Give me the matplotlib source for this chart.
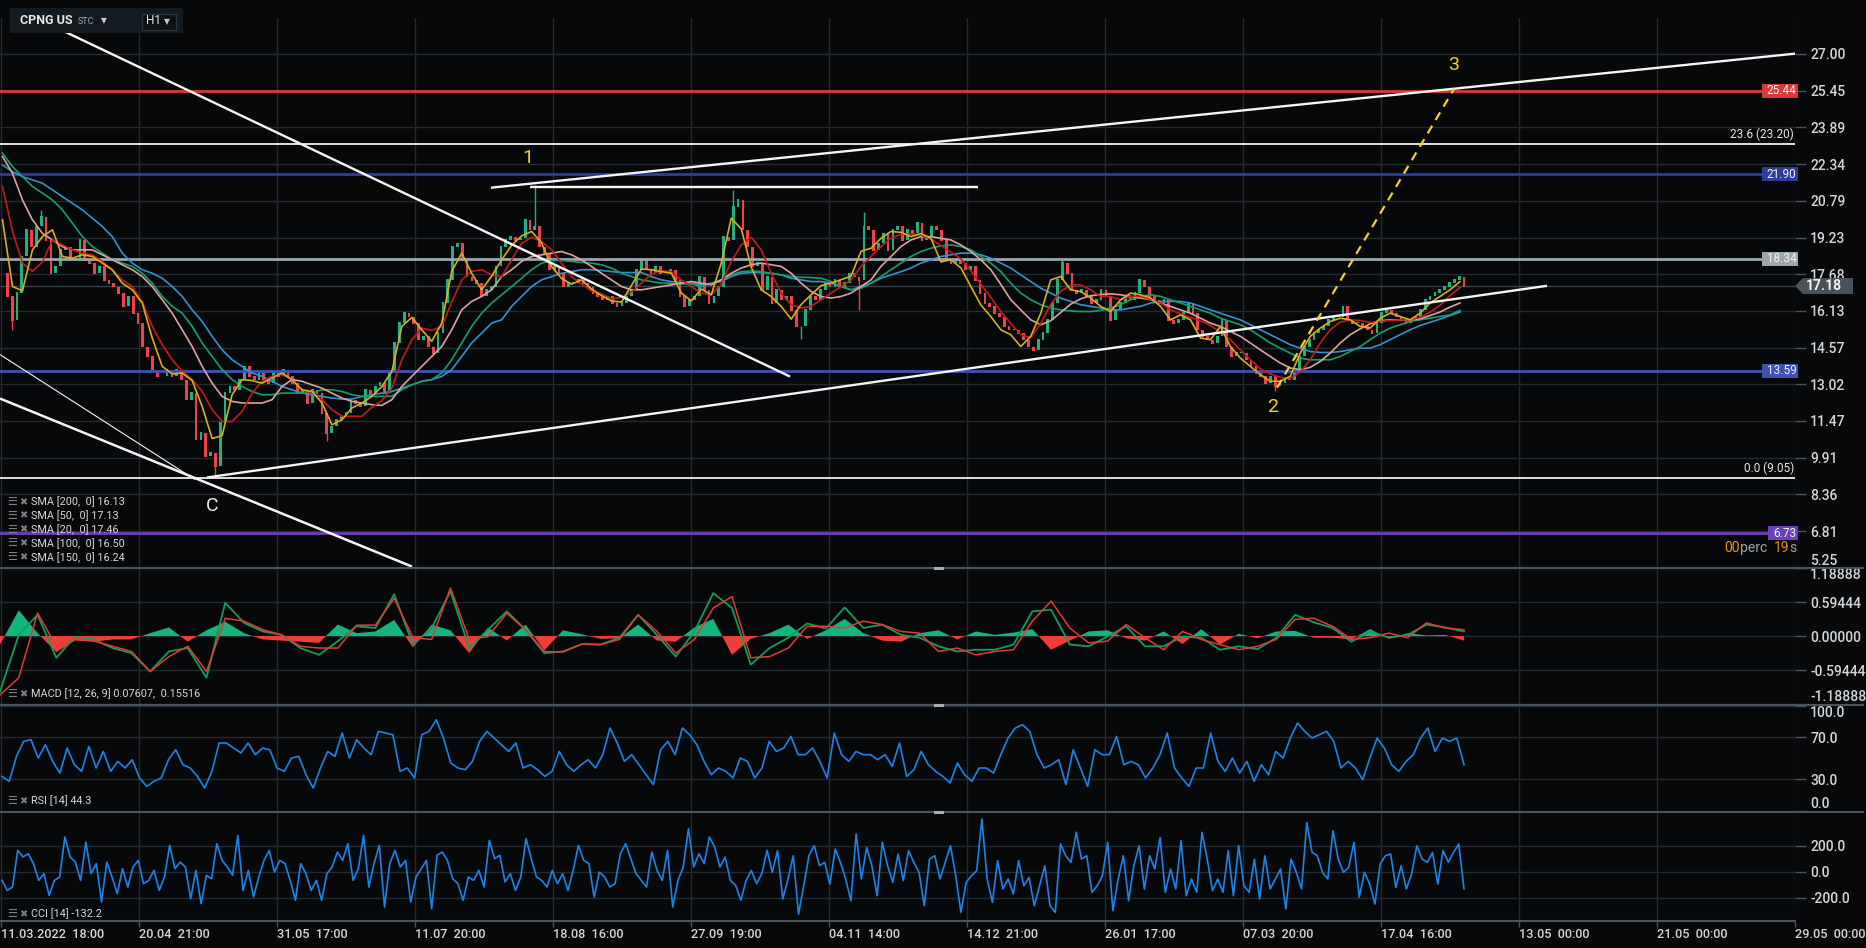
import numpy as np
import matplotlib
matplotlib.use("Agg")
import matplotlib.pyplot as plt
import matplotlib.transforms as mtransforms
from matplotlib.patches import Rectangle, Polygon
from matplotlib.lines import Line2D

plt.rcParams['font.family'] = ['Roboto', 'DejaVu Sans']

# ---------------- colours ----------------
BG = '#070809'
GRID = '#232a31'
SEP = '#4a545d'
TXT = '#d2d6d9'
UP = '#22b07d'
DOWN = '#f0414f'

# ---------------- x axis (bar index units) ----------------
date_pos = [0.2, 27.8, 55.4, 83.0, 110.6, 138.2, 165.8, 193.4, 221.0, 248.6, 276.2, 303.8, 331.4, 359.0]
date_labels = ['11.03.2022  18:00', '20.04  21:00', '31.05  17:00', '11.07  20:00', '18.08  16:00',
               '27.09  19:00', '04.11  14:00', '14.12  21:00', '26.01  17:00', '07.03  20:00',
               '17.04  16:00', '13.05  00:00', '21.05  00:00', '29.05  00:00']

# ---------------- price (closes) ----------------
close_a = [17.72, 16.74, 15.75, 16.88, 18.43, 19.56, 18.85, 19.70, 20.12, 19.13,
           17.72, 18.01, 18.71, 18.85, 18.29, 18.29, 19.13, 18.29, 18.15, 17.72,
           18.01, 17.44, 17.30, 17.16, 16.88, 16.32, 16.74, 16.03, 15.61, 14.62,
           14.20, 13.64, 13.36, 13.36, 13.64, 13.36, 13.64, 13.22, 12.37, 12.65,
           10.68, 10.96, 9.98, 10.12, 9.56, 11.38, 12.65, 12.93, 12.79, 13.22,
           13.78, 13.36, 13.22, 13.50, 13.22, 13.07, 13.50, 13.36, 13.64, 13.36,
           13.07, 12.65, 12.79, 12.23, 12.79, 12.65, 11.81, 10.96, 11.24, 11.52,
           11.67, 11.81, 12.37, 12.23, 12.09, 12.79, 12.65, 12.93, 13.07, 12.65,
           13.50, 14.77, 15.61, 16.03, 15.89, 15.61, 14.91, 15.05, 14.62, 14.34,
           15.19, 16.46, 17.44, 18.85, 18.99, 18.29, 17.58, 17.44, 17.30, 16.74,
           17.02, 17.16, 18.01, 18.85]
close_b = [19.13, 19.27, 19.13, 19.20, 19.98, 19.56, 19.70, 18.85, 18.57, 17.87,
           18.01, 17.72, 17.16, 17.30, 17.30, 17.44, 17.30, 17.16, 16.88, 16.74,
           16.60, 16.74, 16.46, 16.32, 16.46, 16.74, 17.02, 17.87, 18.29, 17.87,
           17.72, 18.01, 17.72, 17.72, 17.87, 17.44, 16.74, 16.32, 16.60, 16.74,
           17.58, 17.02, 16.46, 16.74, 17.16, 19.27, 19.13, 20.54, 20.82, 19.56,
           18.85, 18.01, 18.15, 17.02, 17.58, 16.46, 17.02, 16.60, 16.74, 16.17,
           15.47, 15.47, 16.17, 16.74, 16.60, 17.02, 17.30, 17.16, 17.44, 17.16,
           17.30, 17.72, 17.58, 17.44, 19.70, 19.56, 18.71, 18.99, 19.41, 18.71,
           19.56, 19.70, 19.13, 19.56, 19.41, 19.84, 19.13, 19.27, 19.70, 19.56,
           19.13, 18.29, 18.15, 18.29, 18.15, 17.87, 18.01, 17.44, 16.88, 16.46,
           16.32, 16.03, 15.89, 15.47, 15.33]
close_c = [15.33, 15.19, 14.91, 14.62, 14.48, 14.91, 15.19, 15.75, 16.46, 17.44,
           18.15, 17.72, 17.02, 16.88, 17.02, 16.74, 16.46, 16.60, 17.02, 16.74,
           15.75, 16.17, 16.46, 16.74, 16.60, 16.88, 17.44, 17.16, 16.74, 16.60,
           16.46, 16.60, 15.75, 15.61, 15.75, 16.03, 16.46, 16.03, 15.33, 15.05,
           14.91, 14.77, 15.05, 15.75, 14.62, 14.20, 14.34, 14.34, 14.06, 13.78,
           13.50, 13.36, 13.07, 13.36, 12.93, 13.07, 13.22, 13.22, 13.50, 14.20,
           14.62, 14.91, 15.19, 15.33, 15.47, 15.75, 15.89, 15.89, 16.32, 15.75,
           15.61, 15.61, 15.47, 15.33, 15.19, 15.61, 16.03, 16.17, 16.03, 15.89,
           15.75, 15.61, 15.75, 15.89, 16.17, 16.60, 16.74, 16.88, 17.02, 17.16,
           17.30, 17.44, 17.58, 17.18]
wick_idx = [2, 8, 44, 67, 110, 151, 165, 177, 178, 219, 263]
wick_val = [15.33, 20.40, 9.05, 10.61, 21.45, 21.25, 14.94, 16.15, 20.33, 18.36, 12.72]

# ---------------- moving averages ----------------
sma20 = [19.98, 17.16, 16.98, 18.71, 19.27, 19.56, 18.43, 18.36, 18.50, 18.43,
         18.15, 17.86, 17.30, 17.02, 16.46, 14.98, 13.78, 13.46, 13.50, 13.18,
         12.09, 10.73, 10.85, 12.58, 13.22, 13.18, 13.07, 13.29, 13.50, 13.22,
         12.79, 12.72, 12.23, 11.31, 11.52, 12.02, 12.23, 12.51, 12.93, 13.56,
         15.47, 15.85, 15.33, 14.84, 15.61, 17.80, 18.57, 17.72, 17.02, 17.60,
         18.29, 18.90, 19.30, 19.49, 19.00, 18.01, 17.50, 17.26, 17.44, 17.05,
         16.78, 16.55, 16.50, 17.20, 17.90, 17.87, 17.79, 17.72, 16.88, 16.55,
         17.05, 16.81, 18.15, 20.05, 19.60, 17.98, 17.02, 16.74, 16.32, 15.78,
         16.40, 16.81, 17.20, 17.30, 17.45, 17.60, 18.65, 18.78, 19.20, 19.49,
         19.45, 19.27, 19.40, 19.20, 18.20, 18.29, 17.95, 17.16, 16.38, 15.89,
         15.33, 15.12, 14.62, 15.05, 16.03, 17.44, 17.58, 17.02, 16.95, 16.67,
         16.32, 16.10, 16.60, 16.88, 16.81, 16.67, 16.32, 15.75, 15.96, 15.75,
         14.98, 14.91, 15.47, 14.62, 14.13, 13.78, 13.43, 13.15, 13.15, 13.36,
         14.34, 15.05, 15.40, 15.68, 15.82, 15.75, 15.47, 15.40, 15.82, 16.03,
         15.89, 15.75, 16.03, 16.46, 16.74, 17.02, 17.37]
sma50 = [21.39, 19.50, 18.15, 17.80, 18.20, 19.13, 18.92, 18.71, 18.57, 18.50,
         18.22, 17.87, 17.44, 17.16, 16.50, 15.47, 14.70, 14.06, 13.57, 13.22,
         12.72, 11.95, 11.45, 11.45, 11.88, 12.65, 13.15, 13.36, 13.43, 13.22,
         12.79, 12.65, 12.37, 11.95, 11.67, 11.67, 11.67, 12.05, 12.33, 12.85,
         14.06, 14.90, 15.40, 15.30, 15.47, 16.50, 17.44, 17.80, 17.87, 17.65,
         17.58, 18.29, 18.99, 19.24, 19.06, 18.71, 18.15, 17.58, 17.26, 16.98,
         16.85, 16.64, 16.70, 16.92, 17.30, 17.68, 17.82, 17.79, 17.44, 17.16,
         16.88, 16.81, 17.26, 18.22, 18.92, 19.24, 18.71, 17.72, 16.88, 16.39,
         16.25, 16.32, 16.60, 16.88, 17.16, 17.44, 18.01, 18.43, 18.85, 19.20,
         19.37, 19.38, 19.33, 19.17, 18.89, 18.61, 18.33, 17.82, 17.26, 16.70,
         16.10, 15.60, 15.12, 15.00, 15.60, 16.40, 16.95, 17.23, 17.23, 17.02,
         16.74, 16.74, 16.60, 16.74, 16.74, 16.60, 16.46, 16.17, 16.01, 15.85,
         15.71, 15.51, 15.23, 14.91, 14.48, 14.06, 13.68, 13.46, 13.32, 13.26,
         13.54, 14.06, 14.77, 15.33, 15.65, 15.75, 15.72, 15.64, 15.68, 15.72,
         15.75, 15.75, 15.85, 16.08, 16.36, 16.78, 17.12]
sma100 = [22.66, 21.95, 20.82, 19.98, 19.41, 19.13, 18.85, 18.71, 18.71, 18.71,
          18.50, 18.29, 18.08, 17.87, 17.58, 17.16, 16.60, 16.03, 15.33, 14.62,
          13.78, 13.07, 12.51, 12.30, 12.23, 12.23, 12.23, 12.37, 12.93, 13.22,
          13.15, 13.00, 12.86, 12.65, 12.44, 12.30, 12.23, 12.16, 12.13, 12.37,
          12.93, 13.36, 13.78, 14.20, 14.62, 15.33, 16.17, 16.53, 16.74, 17.02,
          17.58, 17.87, 18.22, 18.43, 18.50, 18.57, 18.64, 18.50, 18.29, 18.01,
          17.72, 17.44, 17.16, 17.02, 17.02, 17.09, 17.16, 17.23, 17.30, 17.37,
          17.30, 17.23, 17.44, 17.72, 17.94, 18.08, 18.15, 18.08, 18.01, 17.72,
          17.30, 16.95, 16.74, 16.67, 16.74, 16.88, 17.16, 17.44, 18.01, 18.43,
          18.85, 19.13, 19.27, 19.27, 19.20, 19.13, 18.92, 18.64, 18.29, 17.87,
          17.25, 16.60, 16.17, 15.75, 15.54, 15.71, 16.06, 16.41, 16.64, 16.77,
          16.82, 16.85, 16.81, 16.74, 16.67, 16.60, 16.46, 16.32, 16.17, 16.03,
          15.82, 15.61, 15.47, 15.26, 15.05, 14.77, 14.48, 14.20, 13.92, 13.71,
          13.64, 13.74, 13.99, 14.34, 14.77, 15.12, 15.37, 15.58, 15.71, 15.75,
          15.75, 15.75, 15.79, 15.93, 16.08, 16.29, 16.46]
sma150 = [22.80, 22.23, 21.81, 21.39, 21.11, 20.82, 20.40, 19.84, 19.27, 18.85,
          18.57, 18.29, 18.15, 18.01, 17.72, 17.30, 16.74, 16.32, 16.03, 15.47,
          14.77, 14.20, 13.64, 13.22, 12.93, 12.72, 12.58, 12.58, 12.65, 12.65,
          12.65, 12.65, 12.79, 12.79, 12.72, 12.58, 12.51, 12.51, 12.51, 12.51,
          12.79, 13.00, 13.15, 13.22, 13.50, 14.06, 14.77, 15.47, 16.03, 16.46,
          16.81, 17.16, 17.51, 17.87, 18.15, 18.26, 18.26, 18.22, 18.18, 18.15,
          18.08, 17.94, 17.72, 17.58, 17.44, 17.37, 17.30, 17.30, 17.27, 17.27,
          17.16, 17.30, 17.44, 17.65, 17.79, 17.82, 17.79, 17.72, 17.65, 17.58,
          17.55, 17.54, 17.51, 17.37, 17.16, 17.02, 17.09, 17.30, 17.58, 17.87,
          18.15, 18.43, 18.64, 18.78, 18.88, 18.92, 18.85, 18.71, 18.43, 18.15,
          17.79, 17.30, 16.88, 16.60, 16.39, 16.25, 16.17, 16.13, 16.10, 16.10,
          16.15, 16.25, 16.39, 16.60, 16.74, 16.81, 16.74, 16.60, 16.46, 16.32,
          16.17, 16.03, 15.82, 15.68, 15.54, 15.33, 15.05, 14.77, 14.55, 14.34,
          14.13, 14.06, 14.06, 14.06, 14.20, 14.41, 14.62, 14.91, 15.19, 15.40,
          15.54, 15.68, 15.75, 15.82, 15.89, 15.96, 16.15]
sma200 = [22.30, 22.02, 21.81, 21.67, 21.53, 21.25, 20.96, 20.68, 20.40, 20.05,
          19.70, 19.27, 18.57, 18.15, 17.87, 17.72, 17.51, 17.16, 16.74, 16.17,
          15.68, 15.05, 14.48, 14.06, 13.78, 13.50, 13.36, 13.15, 12.93, 12.79,
          12.65, 12.58, 12.51, 12.44, 12.40, 12.40, 12.51, 12.58, 12.65, 12.72,
          12.86, 13.00, 13.15, 13.22, 13.36, 13.64, 14.20, 14.77, 15.19, 15.61,
          15.75, 16.32, 16.74, 17.16, 17.44, 17.58, 17.72, 17.79, 17.87, 17.87,
          17.84, 17.79, 17.75, 17.75, 17.75, 17.58, 17.44, 17.37, 17.33, 17.30,
          17.23, 17.30, 17.37, 17.58, 17.72, 17.75, 17.75, 17.72, 17.65, 17.51,
          17.44, 17.37, 17.37, 17.30, 17.16, 17.02, 17.16, 17.30, 17.51, 17.65,
          17.79, 17.94, 18.15, 18.29, 18.43, 18.50, 18.57, 18.57, 18.50, 18.36,
          18.15, 17.94, 17.65, 17.37, 17.09, 16.88, 16.67, 16.53, 16.39, 16.32,
          16.25, 16.17, 16.17, 16.25, 16.32, 16.46, 16.53, 16.53, 16.53, 16.46,
          16.32, 16.17, 16.03, 15.89, 15.75, 15.54, 15.33, 15.12, 14.91, 14.70,
          14.55, 14.41, 14.37, 14.37, 14.41, 14.48, 14.55, 14.55, 14.70, 14.91,
          15.12, 15.33, 15.51, 15.64, 15.78, 15.93, 16.08]
sma_cols = ['#d9ad1c', '#c41a1a', '#dba39c', '#13a06a', '#3a8fd2']
sma_names = ['SMA [200,  0] 16.13', 'SMA [50,  0] 17.13', 'SMA [20,  0] 17.46',
             'SMA [100,  0] 16.50', 'SMA [150,  0] 16.24']

# ---------------- levels / drawings ----------------
level_vals = [25.44, 23.20, 21.90, 18.34, 13.59, 9.05, 6.73]
level_cols = ['#d63a3a', '#f0f0f0', '#2e3c9e', '#9ba6ad', '#3d51b6', '#f0f0f0', '#6c40bb']
level_tags = ['25.44', '23.6 (23.20)', '21.90', '18.34', '13.59', '0.0 (9.05)', '6.73']
last_price = 17.18

trend_x = [(8.4, 158.0), (0.0, 82.4), (0.0, 39.0), (41.4, 309.4), (98.2, 359.4), (106.0, 195.6)]
trend_y = [(28.40, 13.35), (12.42, 5.31), (14.28, 8.99), (9.08, 17.19), (21.34, 27.02), (21.38, 21.38)]
trend_w = [1.7, 1.8, 0.8, 1.7, 1.7, 1.7]
wave_x = (255.4, 290.8)
wave_y = (12.88, 25.52)
wave_lab = ['1', '2', '3']
wave_lab_x = [105.6, 254.6, 290.8]
wave_lab_y = [22.60, 12.08, 26.53]

price_ticks = [27.00, 25.45, 23.89, 22.34, 20.79, 19.23, 17.68, 16.13, 14.57, 13.02,
               11.47, 9.91, 8.36, 6.81, 5.25]

# ---------------- MACD ----------------
macd = [-0.97, 0.02, 0.37, -0.38, -0.01, -0.06, -0.21, -0.30, -0.62, -0.27,
        -0.21, -0.73, 0.58, 0.23, 0.08, 0.02, -0.21, -0.33, -0.09, 0.17,
        0.14, 0.73, -0.15, 0.14, 0.78, -0.21, 0.11, 0.43, 0.11, -0.30,
        -0.27, -0.14, -0.15, -0.03, 0.37, 0.02, -0.36, 0.08, 0.75, 0.49,
        -0.50, -0.21, -0.03, 0.22, 0.13, 0.50, 0.14, 0.20, 0.02, -0.03,
        -0.18, -0.27, -0.24, -0.24, -0.15, 0.43, 0.46, -0.15, -0.18, -0.01,
        0.17, -0.18, -0.18, -0.01, -0.03, -0.24, -0.18, -0.23, -0.03, 0.37,
        0.24, 0.14, -0.10, 0.08, -0.03, 0.02, 0.20, 0.15, 0.08]
signal = [-1.03, -0.73, 0.40, -0.18, -0.03, -0.09, -0.18, -0.27, -0.62, -0.36,
          -0.18, -0.62, 0.31, 0.26, 0.11, 0.02, -0.18, -0.21, -0.21, 0.19,
          0.19, 0.66, -0.03, -0.06, 0.84, -0.06, -0.01, 0.40, 0.11, -0.27,
          -0.28, -0.14, -0.15, -0.06, 0.37, 0.08, -0.30, -0.06, 0.49, 0.69,
          -0.38, -0.36, -0.21, 0.17, 0.17, 0.14, 0.26, 0.20, 0.08, 0.05,
          -0.27, -0.21, -0.33, -0.27, -0.24, 0.26, 0.61, 0.14, -0.12, -0.09,
          0.20, -0.03, -0.24, 0.08, -0.06, -0.15, -0.24, -0.18, -0.06, 0.29,
          0.31, 0.17, -0.06, -0.03, 0.05, -0.03, 0.23, 0.14, 0.11]
hist = [-0.15, 0.45, 0.05, -0.28, -0.08, -0.10, -0.06, -0.06, 0.05, 0.15,
        -0.10, 0.10, 0.25, 0.05, -0.06, -0.08, -0.10, -0.12, 0.20, 0.05,
        0.08, 0.28, -0.20, 0.20, 0.10, -0.30, 0.15, -0.08, 0.20, -0.25,
        0.10, 0.03, -0.05, -0.04, 0.20, -0.08, -0.10, 0.15, 0.30, -0.33,
        -0.05, 0.05, 0.20, -0.05, 0.10, 0.30, 0.05, -0.08, -0.10, 0.05,
        0.10, -0.06, 0.08, 0.02, 0.06, 0.12, -0.24, -0.08, 0.08, 0.10,
        -0.04, -0.08, 0.08, -0.14, 0.12, -0.15, 0.04, -0.04, 0.08, 0.09,
        -0.03, -0.03, -0.06, 0.12, -0.05, 0.05, 0.01, 0.02, -0.08]
macd_ticks = [1.18888, 0.59444, 0.0, -0.59444, -1.18888]

# ---------------- RSI ----------------
rsi = [32.5, 27.8, 51.6, 65.9, 67.5, 50.0, 62.7, 46.8, 35.7, 59.5,
       43.6, 37.3, 61.1, 40.5, 56.3, 37.3, 46.8, 40.5, 48.4, 31.0,
       23.0, 27.8, 31.0, 48.4, 57.9, 43.6, 40.5, 32.5, 21.4, 37.3,
       64.3, 64.3, 59.5, 54.8, 64.3, 53.2, 59.5, 57.9, 40.5, 37.3,
       50.0, 51.6, 34.1, 21.4, 40.5, 56.3, 51.6, 73.8, 50.0, 67.5,
       59.5, 53.2, 75.4, 73.8, 72.2, 37.3, 40.5, 31.0, 72.2, 75.4,
       86.5, 69.0, 45.2, 40.5, 38.9, 46.8, 65.9, 75.4, 69.0, 62.7,
       56.3, 64.3, 40.5, 43.6, 38.9, 32.5, 37.3, 56.3, 43.6, 37.3,
       43.6, 48.4, 40.5, 53.2, 78.6, 64.3, 46.8, 53.2, 43.6, 34.1,
       24.6, 57.9, 65.9, 53.2, 78.6, 72.2, 62.7, 46.8, 34.1,
       40.5, 37.3, 31.0, 50.0, 46.8, 31.0, 40.5, 65.9, 56.3, 59.5,
       70.6, 53.2, 53.2, 59.5, 46.8, 31.0, 73.8, 53.2, 46.8, 56.3,
       53.2, 53.2, 48.4, 53.2, 42.1, 64.3, 32.5, 38.9, 56.3, 43.6,
       37.3, 32.5, 26.2, 45.2, 34.1, 27.8, 40.5, 40.5, 35.7, 53.2,
       69.0, 78.6, 81.7, 75.4, 53.2, 40.5, 43.6, 48.4, 24.6, 57.9,
       40.5, 23.0, 57.9, 53.2, 53.2, 70.6, 43.6, 46.8, 43.6, 31.0,
       40.5, 53.2, 73.8, 40.5, 31.0, 23.0, 40.5, 40.5, 73.8, 46.8,
       37.3, 50.0, 35.7, 46.8, 27.8, 43.6, 34.1, 56.3, 50.0, 69.0,
       83.3, 75.4, 69.0, 72.2, 75.4, 65.9, 40.5, 46.8, 40.5, 29.4,
       50.0, 69.0, 59.5, 43.6, 37.3, 46.8, 53.2, 69.0, 78.6, 56.3,
       69.0, 65.9, 69.0, 43.6]
rsi_ticks = [100.0, 70.0, 30.0, 0.0]

# ---------------- CCI ----------------
cci = [-67, -144, -118, 164, 113, 138, 62, -67, -15, -182,
       -67, -41, 267, 113, 74, -67, 228, -15, 62, -233,
       74, -41, -169, 23, -118, 36, 87, -92, -67, 10,
       -144, -41, 203, 23, 74, 36, -208, 10, -246, -28,
       -54, 215, 87, 36, -28, 279, -144, 10, -195, -41,
       87, 164, -3, 87, 62, -67, -220, 62, -15, -144,
       -67, -220, -15, 36, 151, 87, 215, -67, 23, 279,
       -118, 62, 203, -272, 62, 164, 36, 87, -233, -41,
       23, 87, -285, 126, 151, 87, -54, -92, -220, -41,
       -67, 10, -118, 241, 100, 126, -79, -15, -144, -41,
       254, 100, -41, -67, -118, 10, -92, -15, -144, 10,
       203, 87, 62, -195, -3, -41, -118, -92, 138, 215,
       100, -15, -67, -118, 151, 10, -67, 164, -272, -67,
       36, 331, 36, 138, 62, 267, 190, 36, 113, -67,
       -105, -220, -67, 10, -92, -15, 164,
       -5, 162, -210, -56, 123, -326, -108, 123, 200, 46,
       72, -95, 174, 72, -56, -223, 290, -56, 187, 46,
       -185, 226, 46, -82, 136, -69, 162, 72, -5, -262,
       97, 123, -56, 72, 200, -31, -313, -82, -31, 8,
       405, -56, -236, 85, -133, -56, -172, 85, -108, -44,
       -262, -108, 46, -262, -313, 213, 123, 72, 303, 97,
       123, -159, -108, -31, 226, -300, -56, 123, -223, 46,
       200, -133, 123, 21, 264, -159, 21, -133, 238, -185,
       -56, -159, 303, 97, -146, -56, -159, 162, -185, 200,
       -108, -159, 97, -210, 123, -133, -56, 21, -287, 97,
       -5, -133, 379, 149, 123, -5, -56, 315, 97, -5,
       33, 226, -197, -5, -95, -249, 59, 123, 136, -121,
       46, -133, -18, 200, 97, 72, 149, -95, 162, 72,
       149, 213, -133]
cci_ticks = [200.0, 0.0, -200.0]

# ---------------- figure layout ----------------
W, H = 1866, 948
fig = plt.figure(figsize=(W / 100, H / 100), dpi=100, facecolor=BG)


def fx(px):
    return px / W


def fy(py):
    return 1 - py / H


def panel(top, bottom):
    return fig.add_axes([0, fy(bottom), fx(1795), (bottom - top) / H])


ax_p = panel(18, 568)
ax_m = panel(568, 705)
ax_r = panel(705, 812)
ax_c = panel(812, 921)


def style(ax, ticks, fmt, ylim):
    ax.set_facecolor(BG)
    ax.set_xlim(0, 359)
    ax.set_ylim(*ylim)
    for s in ax.spines.values():
        s.set_visible(False)
    ax.yaxis.tick_right()
    ax.set_yticks(ticks)
    ax.set_yticklabels([fmt.format(t) for t in ticks], fontweight='medium')
    ax.tick_params(axis='y', colors=SEP, labelcolor=TXT, length=8, width=1,
                   labelsize=10, pad=3)
    ax.tick_params(axis='x', bottom=False, labelbottom=False)
    for t in ticks:
        ax.axhline(t, color=GRID, lw=1, zorder=0)
    for x in date_pos:
        ax.axvline(x, color=GRID, lw=1, zorder=0)


style(ax_p, price_ticks, '{:.2f}', (5.25, 28.52))
style(ax_m, macd_ticks, '{:.5f}', (-1.206, 1.189))
style(ax_r, rsi_ticks, '{:.1f}', (-1.4, 100.5))
style(ax_c, cci_ticks, '{:.1f}', (-379, 459))
ax_p.get_yticklabels()[-1].set_va('bottom')
ax_m.get_yticklabels()[0].set_va('top')
ax_m.get_yticklabels()[-1].set_va('bottom')
ax_r.get_yticklabels()[0].set_va('top')
ax_r.get_yticklabels()[-1].set_va('bottom')

# bottom date axis
ax_c.spines['bottom'].set_visible(True)
ax_c.spines['bottom'].set_color(SEP)
ax_c.spines['bottom'].set_linewidth(1.5)
ax_c.set_xticks(date_pos)
ax_c.set_xticklabels(date_labels, ha='left', fontweight='medium')
ax_c.tick_params(axis='x', bottom=True, labelbottom=True, colors=SEP, labelcolor=TXT,
                 length=4, width=1, pad=1, labelsize=9.2)

# ---------------- price panel ----------------
close = np.array(close_a + close_b + close_c)
xc = np.linspace(0.5, 292.8, len(close))
opn = np.r_[close[0], close[:-1]]
up = close >= opn
ax_p.bar(xc[up], (close - opn)[up] + 0.03, bottom=opn[up], width=0.55, color=UP, lw=0, zorder=2)
ax_p.bar(xc[~up], (close - opn)[~up] - 0.03, bottom=opn[~up], width=0.55, color=DOWN, lw=0, zorder=2)
wi = np.array(wick_idx)
ax_p.vlines(xc[wi], close[wi], wick_val, colors=[UP if up[i] else DOWN for i in wi], lw=1, zorder=2)

for v, c in zip(level_vals, level_cols):
    lw = 1.3 if c == '#f0f0f0' else 2.0
    ax_p.axhline(v, color=c, lw=lw, zorder=2.5)
ax_p.axhline(last_price, color='#39434b', lw=1, zorder=1)

xm = np.linspace(0.5, 292.0, len(sma20))
for series, col in zip([sma200, sma150, sma100, sma50, sma20], sma_cols[::-1]):
    ax_p.plot(xm, series, color=col, lw=1.2, zorder=3)

for (x0, x1), (y0, y1), lw in zip(trend_x, trend_y, trend_w):
    ax_p.plot([x0, x1], [y0, y1], color='#f4f4f4', lw=lw, zorder=4, solid_capstyle='butt')
ax_p.plot(wave_x, wave_y, color='#f2d22a', lw=1.6, ls=(0, (4, 3)), zorder=4)
for t, x, y in zip(wave_lab, wave_lab_x, wave_lab_y):
    ax_p.text(x, y, t, color='#f2d22a', fontsize=14, ha='center', va='center', zorder=5)
ax_p.text(42.4, 7.89, 'C', color='#ececec', fontsize=14, ha='center', va='center', zorder=5)

# right-hand level tags
tp = mtransforms.blended_transform_factory(ax_p.transAxes, ax_p.transData)
dp = (28.52 - 5.25) / 550  # price per pixel
for v, c, tag in zip(level_vals, level_cols, level_tags):
    if '(' in tag:
        ax_p.text(1 - 1.0 / 1795, v + 3 * dp, tag, transform=tp, ha='right', va='bottom',
                  color='#e6e6e6', fontsize=8.5, zorder=6)
    else:
        wpx = 6 * len(tag) + 6
        ax_p.add_patch(Rectangle((1 - (wpx - 3) / 1795, v - 7 * dp), wpx / 1795, 14 * dp,
                                 transform=tp, fc=c, ec='none', zorder=6, clip_on=False))
        ax_p.text(1 - (wpx / 2 - 4.5) / 1795, v, tag, transform=tp, ha='center', va='center',
                  color='#f4f4f4', fontsize=8.5, zorder=7, clip_on=False)

arrow = Polygon([(1.0, last_price), (1 + 8 / 1795, last_price + 8 * dp),
                 (1 + 58 / 1795, last_price + 8 * dp), (1 + 58 / 1795, last_price - 8 * dp),
                 (1 + 8 / 1795, last_price - 8 * dp)], closed=True, transform=tp,
                fc='#47525b', ec='none', zorder=6, clip_on=False)
ax_p.add_patch(arrow)
ax_p.text(1 + 11 / 1795, last_price, f'{last_price:.2f}', transform=tp, ha='left', va='center',
          color='#f2f2f2', fontsize=10, fontweight='bold', zorder=7, clip_on=False)

# ---------------- MACD panel ----------------
h = np.array(hist)
xh = np.linspace(0.0, 292.8, len(hist))
ax_m.fill_between(xh, h, 0, where=h >= 0, interpolate=True, color='#13b57b', lw=0, zorder=2)
ax_m.fill_between(xh, h, 0, where=h <= 0, interpolate=True, color='#ee3e3a', lw=0, zorder=2)
ax_m.plot(xh, macd, color='#149c5c', lw=1.3, zorder=3)
ax_m.plot(xh, signal, color='#e23a36', lw=1.1, zorder=3)

# ---------------- RSI / CCI ----------------
ax_r.plot(np.linspace(0.4, 292.8, len(rsi)), rsi, color='#1c84e8', lw=1.2, zorder=3)
ax_c.plot(np.linspace(0.4, 292.8, len(cci)), cci, color='#1c84e8', lw=1.2, zorder=3)

# ---------------- figure-level decorations ----------------
for py in (568, 705, 812):
    fig.add_artist(Line2D([0, fx(1863)], [fy(py), fy(py)], color=SEP, lw=1.5, zorder=8))
    fig.add_artist(Rectangle((fx(934), fy(py + 2)), fx(10), 3 / H, fc='#a9adb0', ec='none', zorder=9))

# symbol header box
fig.add_artist(Rectangle((fx(10), fy(33)), fx(173), 25 / H, fc='#131b21', ec='none', zorder=10))
fig.add_artist(Rectangle((fx(142), fy(30)), fx(34), 16 / H, fc='#0b1115', ec='#2a343c', lw=1, zorder=11))
fig.text(fx(20), fy(21), 'CPNG US', color='#e6e6e6', fontsize=9, fontweight='bold', va='center', zorder=12)
fig.text(fx(78), fy(21), 'STC', color='#9aa3a8', fontsize=6.5, va='center', zorder=12)
fig.text(fx(101), fy(21), '▼', color='#c8c8c8', fontsize=5.5, va='center',
         family='DejaVu Sans', zorder=12)
fig.text(fx(146), fy(21), 'H1', color='#e6e6e6', fontsize=8.5, va='center', zorder=12)
fig.text(fx(164), fy(22), '▼', color='#c8c8c8', fontsize=5.5, va='center',
         family='DejaVu Sans', zorder=12)


def legend_row(py, label):
    fig.text(fx(7), fy(py), '☰', color='#7d8185', fontsize=8, va='center',
             family='DejaVu Sans', zorder=12)
    fig.text(fx(19), fy(py), '✖', color='#7d8185', fontsize=7, va='center',
             family='DejaVu Sans', zorder=12)
    fig.text(fx(31), fy(py), label, color='#d8d8d8', fontsize=7.8, va='center', zorder=12)


for i, name in enumerate(sma_names):
    legend_row(502 + i * 13.8, name)
legend_row(694, 'MACD [12, 26, 9] 0.07607,  0.15516')
legend_row(801, 'RSI [14] 44.3')
legend_row(914, 'CCI [14] -132.2')

# timer text
for x, t, c in [(1724, '00', '#e8900c'), (1740, 'perc', '#9aa0a4'), (1774, '19', '#e8900c'),
                (1789, 's', '#9aa0a4')]:
    fig.text(fx(x), fy(548), t, color=c, fontsize=10, va='center', zorder=12)

fig.savefig('out.png', dpi=100, facecolor=BG)
